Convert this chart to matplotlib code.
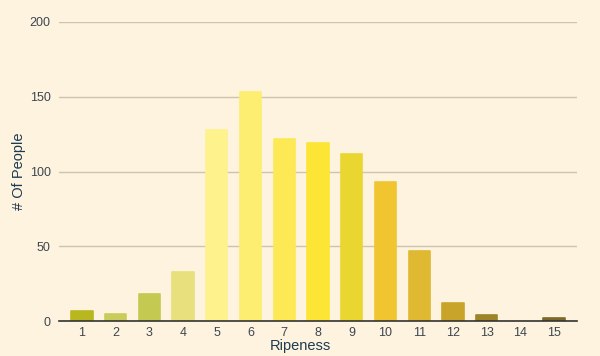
import matplotlib
matplotlib.use("Agg")
import matplotlib.pyplot as plt

plt.rcParams["font.family"] = ["Liberation Sans", "DejaVu Sans"]

ripeness = list(range(1, 16))
people = [7, 5, 18, 33, 128, 153, 122, 119, 112, 93, 47, 12, 4, 0, 2]
colors = ["#b8b71f", "#c9cc5a", "#c3c951", "#e8e07c", "#fdf28b", "#fdee72",
          "#fde956", "#fce535", "#ead631", "#f0c530", "#e0b932", "#c9a42a",
          "#9c8427", "#8a7528", "#7b6a28"]

bg = "#fdf3df"
fig = plt.figure(figsize=(6.0, 3.56), dpi=100, facecolor=bg)
ax = fig.add_axes([59/600, 1-321/356, 518/600, 299/356])
ax.set_facecolor(bg)

bars = ax.bar(ripeness, people, width=0.63, color=colors, edgecolor=colors,
              linewidth=1.2, joinstyle="round", zorder=3)
for b, v in zip(bars, people):
    if v == 0:
        b.set_linewidth(0)

ax.set_xlim(0.32, 15.68)
ax.set_ylim(0, 200)
ax.set_yticks([0, 50, 100, 150, 200])
ax.set_xticks(ripeness)
ax.grid(axis="y", color="#cdc4ab", linewidth=1.0, zorder=0)
for s in ["top", "right", "left"]:
    ax.spines[s].set_visible(False)
ax.spines["bottom"].set_color("#333333")
ax.spines["bottom"].set_linewidth(1.2)
ax.spines["bottom"].set_zorder(4)
ax.tick_params(axis="both", length=0, labelsize=9, labelcolor="#3d4650")
ax.tick_params(axis="y", pad=6)
ax.tick_params(axis="x", pad=4)
ax.set_xlabel("Ripeness", fontsize=10.5, color="#1e3a52")
ax.set_ylabel("# Of People", fontsize=10.5, color="#1e3a52")
ax.xaxis.set_label_coords((300 - 59) / 518, -(346 - 321) / 299)
ax.yaxis.set_label_coords(-(59 - 19) / 518, (321 - 171) / 299)
ax.xaxis.label.set_va("center")
ax.yaxis.label.set_va("center")

fig.savefig("out.png", dpi=100, facecolor=bg)
